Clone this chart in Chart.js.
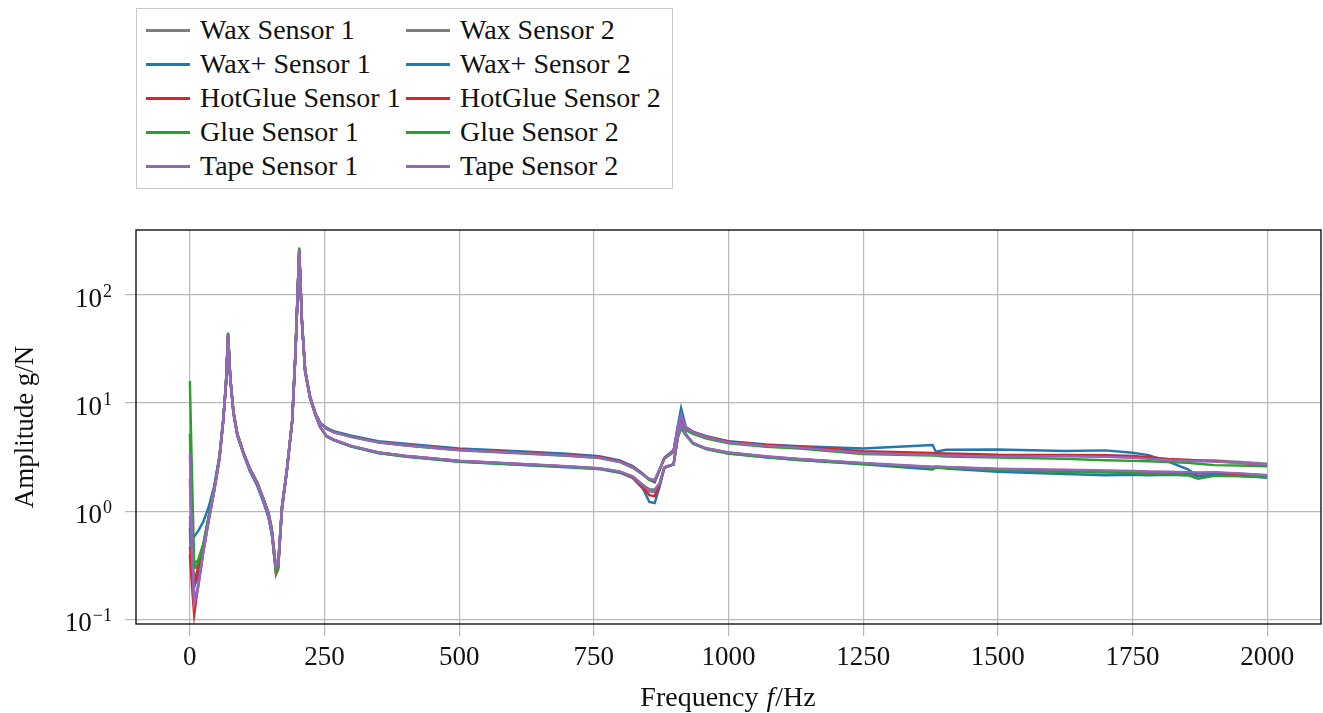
<!DOCTYPE html>
<html>
<head>
<meta charset="utf-8">
<title>Amplitude vs frequency</title>
<script src="https://cdn.jsdelivr.net/npm/chart.js@4.4.1/dist/chart.umd.min.js"></script>
<style>
  html, body { margin: 0; padding: 0; background: #fff; }
  #wrap { position: relative; width: 1323px; height: 713px; }
  #freqChart { position: absolute; left: 0; top: 0; }
  #legend {
    position: absolute; left: 136px; top: 8px; width: 537px; height: 181px;
    box-sizing: border-box; border: 1px solid #cccccc; background: #fff;
    padding: 4px 0 0 9px;
    display: grid; grid-template-columns: 260px 1fr; grid-auto-rows: 34px;
    font-family: "Liberation Serif", serif; font-size: 28px; color: #111;
  }
  #legend .item { display: flex; align-items: center; white-space: nowrap; }
  #legend .swatch { display: inline-block; width: 44px; height: 3px; margin-right: 10px; }
</style>
</head>
<body>
<div id="wrap">
  <canvas id="freqChart" width="1323" height="713"></canvas>
  <div id="legend"></div>
</div>
<script>
// frequency points (Hz), shared by all series
const freq = [0, 4, 8, 15, 25, 35, 45, 55, 62, 67,
  71, 75, 81, 88, 100, 112, 125, 137, 146, 152,
  157, 160, 164, 171, 180, 190, 196, 203, 208, 214,
  223, 233, 242, 254, 267, 300, 350, 400, 500, 600,
  700, 760, 798, 822, 841, 853, 863, 872, 881, 894,
  898, 906, 912, 921, 934, 959, 1000, 1070, 1132, 1250,
  1379, 1385, 1404, 1500, 1625, 1700, 1750, 1780, 1816, 1853,
  1872, 1902, 1950, 2000];

// amplitude g/N
const waxS1 = [0.9, 0.45, 0.3, 0.3, 0.5, 0.9, 1.6, 3.2, 7.0, 15,
  43, 17, 8.2, 5.2, 3.4, 2.4, 1.8, 1.25, 0.93, 0.66,
  0.4, 0.3, 0.33, 1.1, 2.4, 6.9, 29, 265, 58, 20,
  11.5, 8.0, 6.5, 5.8, 5.4, 4.9, 4.35, 4.1, 3.7, 3.5,
  3.3, 3.15, 2.88, 2.58, 2.2, 1.98, 1.9, 2.42, 3.1, 3.5,
  3.6, 5.8, 7.2, 5.8, 5.35, 4.85, 4.35, 4.05, 3.9, 3.5,
  3.4, 3.38, 3.35, 3.25, 3.25, 3.2, 3.15, 3.1, 3.0, 2.98,
  2.95, 2.95, 2.85, 2.75];
const waxS2 = [0.8, 0.35, 0.25, 0.28, 0.48, 0.88, 1.6, 3.2, 7.0, 15,
  42, 17, 8.1, 5.1, 3.35, 2.35, 1.75, 1.22, 0.9, 0.64,
  0.38, 0.29, 0.32, 1.05, 2.35, 6.8, 28, 260, 57, 19.5,
  11.2, 7.8, 6.0, 4.95, 4.6, 4.0, 3.5, 3.25, 2.92, 2.75,
  2.6, 2.49, 2.32, 2.09, 1.72, 1.52, 1.5, 1.78, 2.52, 2.67,
  2.7, 4.9, 6.3, 5.1, 4.26, 3.8, 3.47, 3.2, 3.02, 2.77,
  2.55, 2.57, 2.55, 2.45, 2.38, 2.36, 2.33, 2.32, 2.3, 2.28,
  2.25, 2.26, 2.22, 2.15];
const waxPlusS1 = [0.55, 0.56, 0.58, 0.65, 0.8, 1.1, 1.7, 3.3, 7.2, 15.5,
  44, 17.5, 8.3, 5.2, 3.4, 2.35, 1.75, 1.2, 0.88, 0.62,
  0.38, 0.3, 0.34, 1.1, 2.4, 6.9, 29, 262, 58, 20,
  11.6, 8.1, 6.6, 5.9, 5.5, 5.0, 4.45, 4.2, 3.8, 3.6,
  3.4, 3.22, 2.95, 2.62, 2.22, 1.95, 1.85, 2.4, 3.12, 3.55,
  3.65, 6.2, 9.0, 6.0, 5.45, 4.95, 4.45, 4.15, 4.0, 3.8,
  4.1, 3.55, 3.7, 3.72, 3.6, 3.65, 3.47, 3.3, 2.87, 2.44,
  2.11, 2.15, 2.12, 2.05];
const waxPlusS2 = [0.7, 0.25, 0.2, 0.25, 0.47, 0.88, 1.58, 3.15, 6.9, 14.8,
  42, 16.8, 8.0, 5.0, 3.3, 2.3, 1.72, 1.2, 0.88, 0.62,
  0.37, 0.29, 0.31, 1.05, 2.35, 6.8, 28, 255, 57, 19.5,
  11.2, 7.8, 6.0, 4.9, 4.55, 3.95, 3.45, 3.2, 2.87, 2.7,
  2.55, 2.45, 2.27, 2.03, 1.62, 1.22, 1.19, 1.68, 2.52, 2.65,
  2.7, 5.0, 6.8, 5.15, 4.25, 3.75, 3.42, 3.15, 2.97, 2.72,
  2.43, 2.55, 2.48, 2.32, 2.21, 2.15, 2.17, 2.15, 2.17, 2.15,
  2.13, 2.15, 2.12, 2.05];
const hotGlueS1 = [0.47, 0.3, 0.2, 0.3, 0.45, 0.85, 1.55, 3.1, 7.0, 15,
  43, 17, 8.2, 5.2, 3.45, 2.45, 1.85, 1.3, 0.97, 0.7,
  0.42, 0.27, 0.3, 1.1, 2.4, 6.9, 29, 265, 58, 20,
  11.5, 8.0, 6.5, 5.8, 5.4, 4.9, 4.35, 4.1, 3.72, 3.52,
  3.32, 3.17, 2.9, 2.58, 2.2, 1.96, 1.88, 2.4, 3.1, 3.5,
  3.6, 5.9, 7.5, 5.9, 5.4, 4.9, 4.4, 4.1, 3.95, 3.58,
  3.45, 3.44, 3.42, 3.33, 3.32, 3.3, 3.25, 3.16, 3.05, 2.98,
  2.95, 2.9, 2.8, 2.65];
const hotGlueS2 = [0.4, 0.2, 0.11, 0.2, 0.42, 0.82, 1.5, 3.0, 6.8, 14.5,
  42, 16.8, 8.0, 5.1, 3.4, 2.42, 1.82, 1.28, 0.95, 0.68,
  0.36, 0.26, 0.29, 1.05, 2.35, 6.8, 28, 258, 57, 19.5,
  11.2, 7.8, 6.0, 4.95, 4.6, 4.0, 3.5, 3.25, 2.92, 2.75,
  2.6, 2.49, 2.3, 2.06, 1.66, 1.41, 1.38, 1.75, 2.54, 2.67,
  2.7, 4.9, 6.3, 5.05, 4.25, 3.8, 3.47, 3.2, 3.02, 2.77,
  2.55, 2.57, 2.55, 2.44, 2.37, 2.33, 2.32, 2.3, 2.28, 2.26,
  2.24, 2.28, 2.2, 2.12];
const glueS1 = [16, 2.2, 0.33, 0.35, 0.5, 0.9, 1.6, 3.2, 7.1, 15.5,
  45, 17.5, 8.3, 5.3, 3.45, 2.45, 1.85, 1.28, 0.95, 0.68,
  0.38, 0.28, 0.31, 1.1, 2.4, 7.0, 30, 275, 59, 20.5,
  11.6, 8.1, 6.5, 5.8, 5.4, 4.9, 4.35, 4.05, 3.65, 3.45,
  3.25, 3.1, 2.85, 2.52, 2.18, 1.95, 1.92, 2.45, 3.05, 3.4,
  3.5, 5.5, 6.2, 5.6, 5.2, 4.7, 4.25, 3.95, 3.8, 3.38,
  3.28, 3.26, 3.2, 3.14, 3.05, 2.96, 2.92, 2.9, 2.85, 2.8,
  2.75, 2.67, 2.65, 2.6];
const glueS2 = [5.2, 0.8, 0.3, 0.33, 0.48, 0.88, 1.58, 3.15, 6.9, 15,
  43, 17, 8.1, 5.15, 3.38, 2.38, 1.78, 1.24, 0.92, 0.65,
  0.37, 0.27, 0.3, 1.05, 2.35, 6.85, 29, 265, 58, 20,
  11.3, 7.9, 6.0, 4.9, 4.55, 3.95, 3.45, 3.2, 2.88, 2.72,
  2.57, 2.46, 2.3, 2.1, 1.75, 1.6, 1.58, 1.82, 2.55, 2.68,
  2.72, 4.8, 5.8, 5.0, 4.2, 3.75, 3.42, 3.15, 2.98, 2.74,
  2.52, 2.54, 2.52, 2.4, 2.3, 2.28, 2.25, 2.22, 2.2, 2.15,
  2.0, 2.12, 2.1, 2.08];
const tapeS1 = [3.4, 0.5, 0.15, 0.2, 0.42, 0.82, 1.55, 3.1, 6.9, 15,
  43, 17, 8.2, 5.2, 3.4, 2.4, 1.8, 1.25, 0.93, 0.66,
  0.4, 0.31, 0.33, 1.1, 2.4, 6.9, 29, 262, 58, 20,
  11.5, 8.0, 6.5, 5.75, 5.35, 4.85, 4.32, 4.07, 3.68, 3.48,
  3.28, 3.13, 2.86, 2.55, 2.18, 2.0, 1.95, 2.45, 3.08, 3.48,
  3.58, 6.0, 7.8, 5.9, 5.35, 4.85, 4.32, 4.02, 3.87, 3.45,
  3.32, 3.3, 3.28, 3.2, 3.22, 3.18, 3.12, 3.05, 2.98, 2.92,
  2.9, 2.88, 2.8, 2.7];
const tapeS2 = [2.0, 0.4, 0.14, 0.19, 0.42, 0.83, 1.55, 3.1, 6.85, 14.8,
  42, 16.8, 8.0, 5.1, 3.35, 2.38, 1.78, 1.25, 0.92, 0.65,
  0.38, 0.3, 0.32, 1.05, 2.35, 6.8, 28, 258, 57, 19.5,
  11.2, 7.8, 6.0, 4.95, 4.6, 4.02, 3.5, 3.26, 2.93, 2.76,
  2.61, 2.5, 2.33, 2.1, 1.74, 1.58, 1.57, 1.8, 2.55, 2.68,
  2.72, 4.95, 6.5, 5.1, 4.28, 3.82, 3.5, 3.22, 3.04, 2.8,
  2.58, 2.6, 2.57, 2.47, 2.42, 2.38, 2.36, 2.33, 2.32, 2.3,
  2.28, 2.3, 2.24, 2.15];

const seriesLabels = ['Wax Sensor 1', 'Wax Sensor 2', 'Wax+ Sensor 1', 'Wax+ Sensor 2',
  'HotGlue Sensor 1', 'HotGlue Sensor 2', 'Glue Sensor 1', 'Glue Sensor 2',
  'Tape Sensor 1', 'Tape Sensor 2'];
const seriesValues = [waxS1, waxS2, waxPlusS1, waxPlusS2, hotGlueS1, hotGlueS2,
  glueS1, glueS2, tapeS1, tapeS2];
const seriesColors = ['#7f7f7f', '#7f7f7f', '#1f77b4', '#1f77b4', '#d62728', '#d62728',
  '#2ca02c', '#2ca02c', '#9467bd', '#9467bd'];

const xTicks = [0, 250, 500, 750, 1000, 1250, 1500, 1750, 2000];
const yTicks = [0.1, 1, 10, 100];
const yTickExp = ['\u22121', '0', '1', '2'];

const FONT = '"Liberation Serif", "Times New Roman", serif';

// frame, tick labels and axis titles (pgfplots look)
const axisDecor = {
  id: 'axisDecor',
  afterDraw(chart) {
    const ctx = chart.ctx;
    const area = chart.chartArea;
    const xs = chart.scales.x, ys = chart.scales.y;
    ctx.save();
    ctx.strokeStyle = '#000';
    ctx.lineWidth = 1.3;
    ctx.strokeRect(area.left, area.top, area.right - area.left, area.bottom - area.top);

    ctx.fillStyle = '#111';
    ctx.textBaseline = 'alphabetic';
    ctx.font = '27px ' + FONT;
    ctx.textAlign = 'center';
    xTicks.forEach(v => ctx.fillText(String(v), xs.getPixelForValue(v), 665));

    // y ticks as 10^n
    ctx.textAlign = 'right';
    yTicks.forEach((v, i) => {
      const y = ys.getPixelForValue(v);
      ctx.font = '18px ' + FONT;
      const w = ctx.measureText(yTickExp[i]).width;
      ctx.fillText(yTickExp[i], 112, y + 2);
      ctx.font = '27px ' + FONT;
      ctx.fillText('10', 112 - w - 1, y + 12);
    });

    // x title: Frequency f/Hz with italic f
    const parts = [['Frequency ', ''], ['f', 'italic '], ['/Hz', '']];
    let total = 0;
    parts.forEach(p => { ctx.font = p[1] + '28px ' + FONT; total += ctx.measureText(p[0]).width + 1; });
    let x = (area.left + area.right) / 2 - total / 2;
    ctx.textAlign = 'left';
    parts.forEach(p => {
      ctx.font = p[1] + '28px ' + FONT;
      ctx.fillText(p[0], x, 706);
      x += ctx.measureText(p[0]).width + 1;
    });

    // y title
    ctx.translate(33, (area.top + area.bottom) / 2);
    ctx.rotate(-Math.PI / 2);
    ctx.textAlign = 'center';
    ctx.font = '27px ' + FONT;
    ctx.fillText('Amplitude g/N', 0, 0);
    ctx.restore();
  }
};

function buildLegend(chart) {
  const box = document.getElementById('legend');
  chart.data.datasets.forEach(ds => {
    const item = document.createElement('div');
    item.className = 'item';
    const sw = document.createElement('span');
    sw.className = 'swatch';
    sw.style.background = ds.borderColor;
    const txt = document.createElement('span');
    txt.textContent = ds.label;
    item.appendChild(sw);
    item.appendChild(txt);
    box.appendChild(item);
  });
}

function makeChart() {
  const ctx = document.getElementById('freqChart').getContext('2d');
  const datasets = seriesLabels.map((label, i) => ({
    label: label,
    data: freq.map((f, j) => ({ x: f, y: seriesValues[i][j] })),
    borderColor: seriesColors[i],
    backgroundColor: seriesColors[i],
    borderWidth: 2.4,
    pointRadius: 0,
    tension: 0,
    fill: false,
    order: seriesLabels.length - i   // later series on top, as in pgfplots
  }));

  const freqChart = new Chart(ctx, {
    type: 'line',
    data: { datasets: datasets },
    options: {
      responsive: false,
      animation: false,
      devicePixelRatio: 1,
      layout: { padding: { top: 230, right: 2, left: 0, bottom: 0 } },
      plugins: { legend: { display: false }, tooltip: { enabled: false } },
      scales: {
        x: {
          type: 'linear',
          min: -100,
          max: 2100,
          afterBuildTicks: s => { s.ticks = xTicks.map(v => ({ value: v })); },
          afterFit: s => { s.height = 89; },
          ticks: { display: false },
          border: { display: false },
          grid: { color: '#b8b8b8', lineWidth: 1.2, tickLength: 12, drawTicks: true }
        },
        y: {
          type: 'logarithmic',
          min: 0.0905,
          max: 399,
          afterBuildTicks: s => { s.ticks = yTicks.map(v => ({ value: v })); },
          afterFit: s => { s.width = 136; },
          ticks: { display: false },
          border: { display: false },
          grid: { color: '#b8b8b8', lineWidth: 1.2, tickLength: 11, drawTicks: true }
        }
      }
    },
    plugins: [axisDecor]
  });
  buildLegend(freqChart);
}

Promise.all([
  document.fonts.load('28px "Liberation Serif"'),
  document.fonts.load('italic 28px "Liberation Serif"')
]).then(makeChart, makeChart);
</script>
</body>
</html>
